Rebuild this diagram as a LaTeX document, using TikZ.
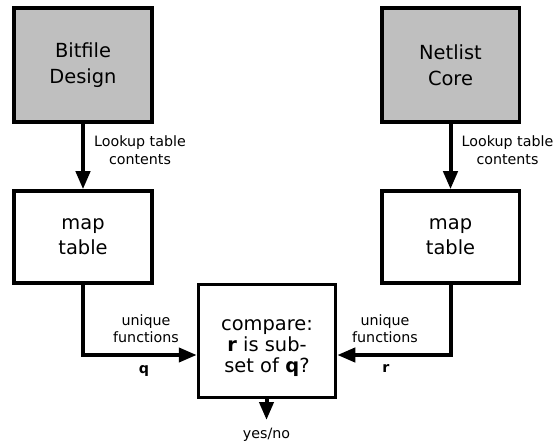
\documentclass[tikz,border=0pt]{standalone}
\usepackage{fontspec}
\setmainfont{DejaVu Sans}
\usetikzlibrary{arrows.meta}
\definecolor{srcgray}{RGB}{191,191,191}
\tikzset{
  box/.style={draw, line width=3.5bp, align=center, inner sep=0pt,
              minimum width=137.5bp, font=\fontsize{19.5}{25}\selectfont},
  srcbox/.style={box, fill=srcgray, minimum height=114bp,
              font=\fontsize{19.5}{26.5}\selectfont},
  mapbox/.style={box, minimum height=92bp},
  flow/.style={line width=4bp, -{Triangle[length=18bp,width=14bp]}},
  lbl/.style={align=center, inner sep=0pt, font=\fontsize{14.3}{18}\selectfont},
  flbl/.style={align=center, inner sep=0pt, font=\fontsize{14.3}{16.5}\selectfont},
}
\begin{document}
\begin{tikzpicture}[x=1bp, y=-1bp]
\useasboundingbox (0,0) rectangle (554,445);

% source boxes
\node[srcbox] (bit) at (83,65) {Bitfile\\Design};
\node[srcbox] (net) at (450.5,65) {Netlist\\Core};

% mapping boxes
\node[mapbox] (mapL) at (83,237) {map\\table};
\node[mapbox] (mapR) at (450.5,237) {map\\table};

% comparison box and its text
\node[box, minimum width=137bp, minimum height=113bp] (cmp) at (267,341) {};
\node[align=center, inner sep=0pt, font=\fontsize{19.5}{21.5}\selectfont]
  (cmptext) at (267,348) {compare:\\\textbf{r} is sub-\\set of \textbf{q}?};

% edge labels
\node[lbl, anchor=west] (lutL) at (94,150.5) {Lookup table\\contents};
\node[lbl, anchor=west] (lutR) at (461.5,150.5) {Lookup table\\contents};
\node[flbl] (ufL) at (146,328.5) {unique\\functions};
\node[flbl] (ufR) at (385,328.5) {unique\\functions};
\node[flbl, font=\fontsize{14.3}{16.5}\selectfont\bfseries] (qlab) at (144,370.5) {q};
\node[flbl, font=\fontsize{14.3}{16.5}\selectfont\bfseries] (rlab) at (386,369) {r};
\node[lbl, anchor=north, inner ysep=8bp] (yn) at (266.5,420) {yes/no};

% connectors
\coordinate (flowlevel) at (0,355);
\draw[flow] (bit.south) -- (mapL.north);
\draw[flow] (net.south) -- (mapR.north);
\draw[flow] (mapL.south) |- (cmp.west |- flowlevel);
\draw[flow] (mapR.south) |- (cmp.east |- flowlevel);
\draw[flow] (cmp.south -| yn.north) -- (yn.north);
\end{tikzpicture}
\end{document}
